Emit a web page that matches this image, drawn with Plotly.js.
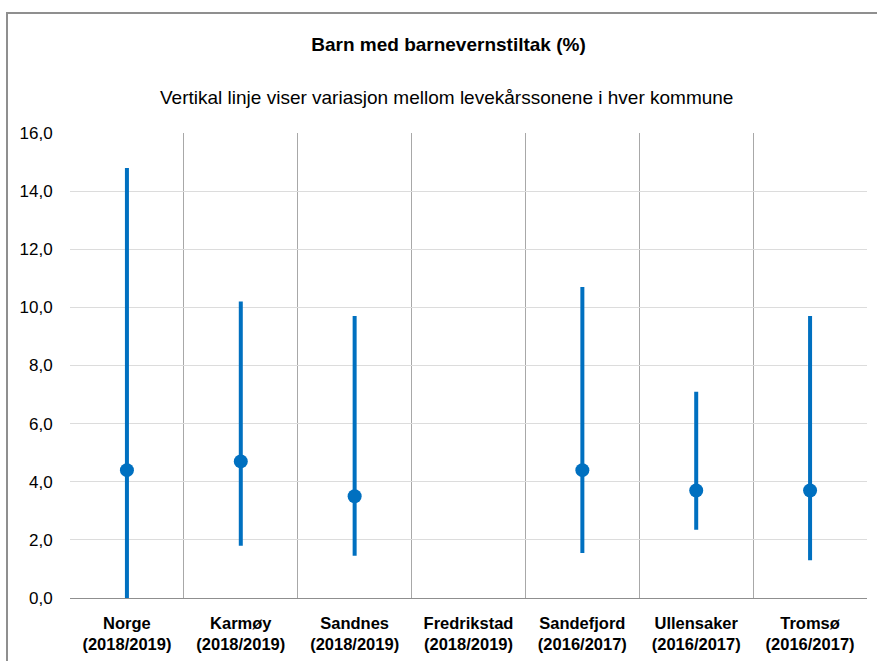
<!DOCTYPE html>
<html>
<head>
<meta charset="utf-8">
<script src="https://cdn.plot.ly/plotly-3.0.1.min.js"></script>
<style>
  html, body { margin: 0; padding: 0; background: #fff; }
  #wrap { position: relative; width: 877px; height: 661px; }
  #chart { width: 877px; height: 661px; }
  #frame { position: absolute; left: 6px; top: 12px; width: 900px; height: 700px;
           border-top: 2px solid #8f8f8f; border-left: 2px solid #8f8f8f; pointer-events: none; }
</style>
</head>
<body>
<div id="wrap">
  <div id="chart"></div>
  <div id="frame"></div>
</div>
<script>
const kommuner = ["Norge", "Karmøy", "Sandnes", "Fredrikstad", "Sandefjord", "Ullensaker", "Tromsø"];
const perioder = ["(2018/2019)", "(2018/2019)", "(2018/2019)", "(2018/2019)", "(2016/2017)", "(2016/2017)", "(2016/2017)"];
const snitt = [4.4, 4.7, 3.5, null, 4.4, 3.7, 3.7];
const minVerdi = [0.0, 1.8, 1.45, null, 1.55, 2.35, 1.3];
const maxVerdi = [14.8, 10.2, 9.7, null, 10.7, 7.1, 9.7];
const yTicks = [0, 2, 4, 6, 8, 10, 12, 14, 16];

const labels = kommuner.map((k, i) => k + "<br>" + perioder[i]);
const plus = snitt.map((v, i) => v == null ? null : maxVerdi[i] - v);
const minus = snitt.map((v, i) => v == null ? null : v - minVerdi[i]);
const blue = "#0070C0";

const trace = {
  type: "scatter",
  mode: "markers",
  x: labels,
  y: snitt,
  marker: { color: blue, size: 14 },
  error_y: {
    type: "data", symmetric: false,
    array: plus, arrayminus: minus,
    color: blue, thickness: 4, width: 0
  },
  hoverinfo: "x+y"
};

const sans = "'Liberation Sans', Arial, sans-serif";
const layout = {
  width: 877, height: 661,
  margin: { l: 70, r: 10, t: 133, b: 63 },
  paper_bgcolor: "#fff", plot_bgcolor: "#fff",
  showlegend: false,
  title: {
    text: "Barn med barnevernstiltak (%)",
    font: { family: sans, size: 19, color: "#000", weight: "bold" },
    x: 0.5114, xanchor: "center", xref: "container",
    y: 1 - 44 / 661, yanchor: "middle", yref: "container"
  },
  annotations: [{
    text: "Vertikal linje viser variasjon mellom levekårssonene i hver kommune",
    xref: "paper", yref: "paper",
    x: (446.5 - 70) / 797, y: (598 - 97.5) / 465,
    xanchor: "center", yanchor: "middle",
    showarrow: false,
    font: { family: sans, size: 19, color: "#000" }
  }],
  xaxis: {
    type: "category",
    range: [-0.5, 6.5],
    tickson: "boundaries",
    showgrid: true, gridcolor: "#a8a8a8", gridwidth: 1,
    showline: true, linecolor: "#8f8f8f", linewidth: 1, mirror: false,
    ticks: "", ticklabelstandoff: 10, fixedrange: true,
    tickfont: { family: sans, size: 16.5, color: "#000", weight: "bold" },
    zeroline: false
  },
  yaxis: {
    range: [0, 16],
    tickvals: yTicks,
    ticktext: yTicks.map(v => v.toFixed(1).replace(".", ",")),
    showgrid: true, gridcolor: "#dcdcdc", gridwidth: 1,
    zeroline: false, showline: false,
    ticks: "outside", ticklen: 13, tickcolor: "rgba(0,0,0,0)",
    tickfont: { family: sans, size: 17, color: "#000" },
    fixedrange: true
  }
};

Plotly.newPlot("chart", [trace], layout, { displayModeBar: false, staticPlot: true });
</script>
</body>
</html>
